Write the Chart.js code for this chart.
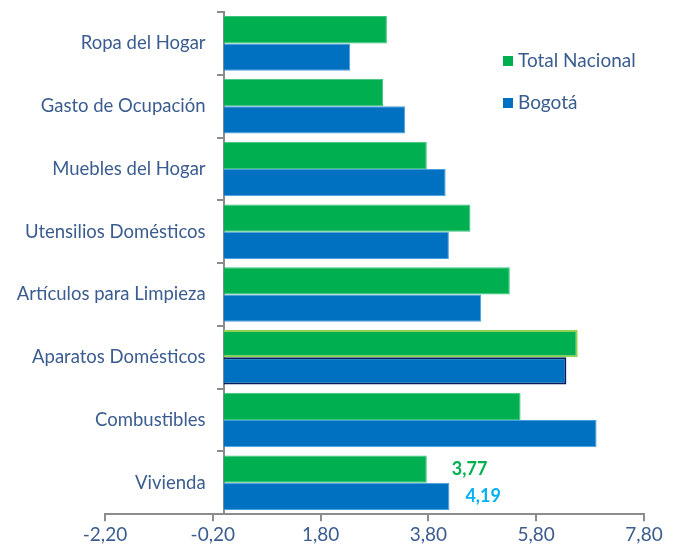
<!DOCTYPE html>
<html>
<head>
<meta charset="utf-8">
<script src="https://cdn.jsdelivr.net/npm/chart.js@4"></script>
<style>
html,body{margin:0;padding:0;background:#fff;}
#wrap{width:678px;height:548px;position:relative;}
</style>
</head>
<body>
<div id="wrap"><canvas id="c" width="678" height="548"></canvas></div>
<script>
const categories = ['Ropa del Hogar','Gasto de Ocupación','Muebles del Hogar','Utensilios Domésticos','Artículos para Limpieza','Aparatos Domésticos','Combustibles','Vivienda'];
const totalNacional = [3.03, 2.96, 3.77, 4.58, 5.31, 6.57, 5.51, 3.77];
const bogota = [2.35, 3.37, 4.12, 4.18, 4.78, 6.36, 6.92, 4.19];
const xTicks = [-2.2, -0.2, 1.8, 3.8, 5.8, 7.8];
const seriesNames = ['Total Nacional', 'Bogotá'];
const labelledIndex = 7; // Vivienda shows value labels

const GREEN = '#00B050', BLUE = '#0070C0';
const TXT = '#3A5C8F';
const FONT = 'Lato, "Open Sans", sans-serif';
const fmt = v => v.toFixed(2).replace('.', ',');

const greenBorders = categories.map((c,i) => i === 5 ? '#92D050' : '#3cc47c');
const greenBW = categories.map((c,i) => i === 5 ? 2 : 1);
const blueBorders = categories.map((c,i) => i === 5 ? '#002060' : '#4a9ee0');
const blueBW = categories.map((c,i) => i === 5 ? 2 : 1);

const overlay = {
  id: 'overlay',
  afterDraw(chart) {
    const ctx = chart.ctx;
    const xs = chart.scales.x;
    ctx.save();
    // legend
    ctx.font = '19px ' + FONT;
    ctx.textBaseline = 'middle';
    ctx.textAlign = 'left';
    const items = [[seriesNames[0], GREEN, 61], [seriesNames[1], BLUE, 103]];
    items.forEach(([t, col, y]) => {
      ctx.fillStyle = col;
      ctx.fillRect(503, y - 5, 10, 10);
      ctx.fillStyle = TXT;
      ctx.fillText(t, 518, y);
    });
    // value labels for Vivienda
    const m0 = chart.getDatasetMeta(0).data[labelledIndex];
    const m1 = chart.getDatasetMeta(1).data[labelledIndex];
    ctx.font = 'bold 18px ' + FONT;
    ctx.fillStyle = GREEN;
    ctx.fillText(fmt(totalNacional[labelledIndex]), xs.getPixelForValue(totalNacional[labelledIndex]) + 25, m0.y);
    ctx.fillStyle = '#00B0F0';
    ctx.fillText(fmt(bogota[labelledIndex]), xs.getPixelForValue(bogota[labelledIndex]) + 16, m1.y);
    ctx.restore();
  }
};

new Chart(document.getElementById('c'), {
  type: 'bar',
  data: {
    labels: categories,
    datasets: [
      { label: seriesNames[0], data: totalNacional, backgroundColor: GREEN, borderColor: greenBorders, borderWidth: greenBW, borderSkipped: 'start' },
      { label: seriesNames[1], data: bogota, backgroundColor: BLUE, borderColor: blueBorders, borderWidth: blueBW, borderSkipped: 'start' }
    ]
  },
  options: {
    indexAxis: 'y',
    responsive: false,
    animation: false,
    datasets: { bar: { categoryPercentage: 0.87, barPercentage: 1.0 } },
    layout: { padding: { left: 105, right: 34, top: 12, bottom: 0 } },
    plugins: { legend: { display: false }, tooltip: { enabled: false } },
    scales: {
      x: {
        type: 'linear',
        min: -2.2, max: 7.8,
        afterBuildTicks: s => { s.ticks = xTicks.map(v => ({ value: v })); },
        grid: { drawOnChartArea: false, drawTicks: true, tickLength: 7, color: '#8c8c8c', lineWidth: 2 },
        border: { display: true, color: '#8c8c8c', width: 2 },
        ticks: { color: TXT, font: { family: FONT, size: 19 }, padding: 2, callback: v => fmt(v), maxRotation: 0, autoSkip: false }
      },
      y: {
        type: 'category',
        position: { x: -0.334 },
        offset: true,
        grid: { display: false, drawTicks: false, offset: true },
        border: { display: false },
        ticks: { color: TXT, font: { family: FONT, size: 18.5 }, padding: 0, autoSkip: false }
      },
      y2: {
        type: 'category',
        axis: 'y',
        labels: categories,
        position: { x: 0 },
        offset: true,
        grid: { offset: true, drawOnChartArea: false, drawTicks: true, tickLength: 6, color: '#8c8c8c', lineWidth: 2 },
        border: { display: true, color: '#8c8c8c', width: 2 },
        ticks: { display: false }
      }
    }
  },
  plugins: [overlay]
});
</script>
</body>
</html>
